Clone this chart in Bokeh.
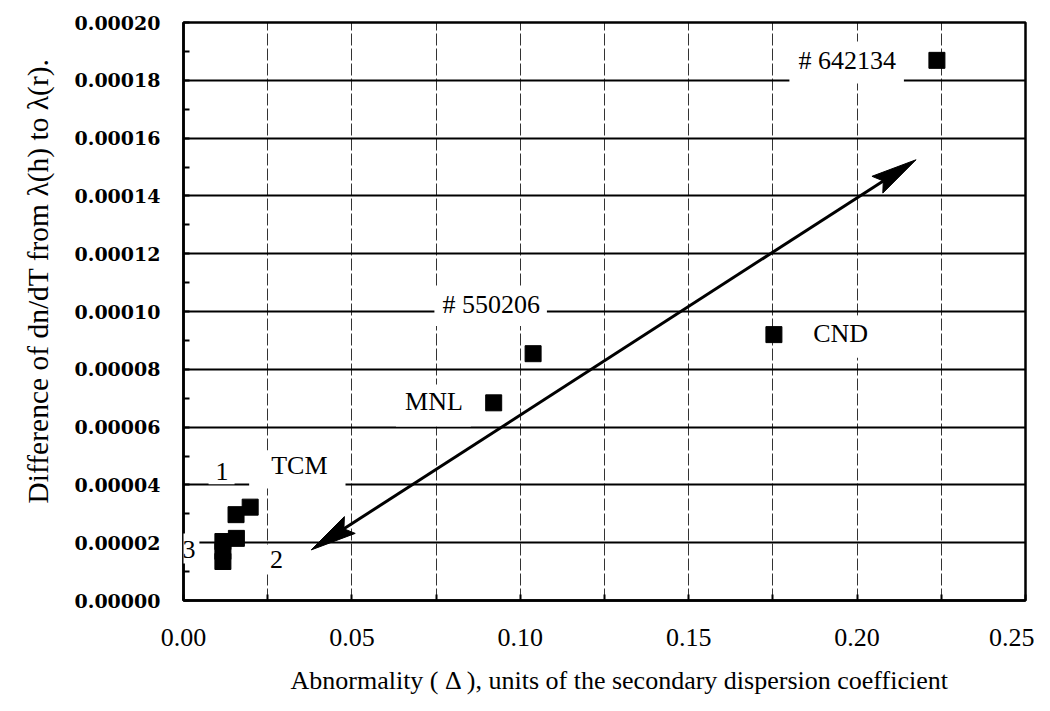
import math
from bokeh.plotting import figure
from bokeh.models import FixedTicker, PrintfTickFormatter, Label, Range1d, Title
from bokeh.embed import file_html
from bokeh.resources import INLINE

# ---------------- data ----------------
abnormality = [0.2237, 0.1753, 0.1038, 0.0921, 0.0198, 0.0156, 0.0157, 0.0117, 0.0117, 0.0117]
dndt_difference = [0.0001869, 0.0000920, 0.0000854, 0.0000684, 0.0000323,
                   0.0000297, 0.0000215, 0.0000204, 0.0000170, 0.0000135]

x_major_ticks = [0.0, 0.05, 0.10, 0.15, 0.20, 0.25]
x_minor_ticks = [0.025, 0.075, 0.125, 0.175, 0.225]
y_major_ticks = [0.0, 0.00002, 0.00004, 0.00006, 0.00008, 0.00010,
                 0.00012, 0.00014, 0.00016, 0.00018, 0.00020]
y_minor_ticks = [0.00001, 0.00003, 0.00005, 0.00007, 0.00009,
                 0.00011, 0.00013, 0.00015, 0.00017, 0.00019]

x_title = "Abnormality ( \u0394 ), units of the secondary dispersion coefficient"
y_title = "Difference of dn/dT from \u03bb(h) to \u03bb(r)."

annotation_texts = ["# 642134", "# 550206", "MNL", "CND", "TCM", "1", "3", "2"]
annotation_x = [0.1969, 0.0912, 0.0742, 0.1951, 0.0338, 0.0113, 0.0019, 0.0276]
annotation_y = [0.0001862, 0.0001017, 0.0000675, 0.0000913, 0.0000453, 0.0000439, 0.0000180, 0.0000142]

trend_start = (0.0379, 0.0000175)
trend_end = (0.2175, 0.0001525)

# ---------------- layout / style ----------------
W, H = 1034, 711
BL, BR, BT, BB = 183, 9, 22, 111
X0, X1 = 0.0, 0.25
Y0, Y1 = 0.0, 0.0002

label_pads = [dict(left=9, right=8, top=5, bottom=8),
              dict(left=8, right=7, top=3, bottom=7),
              dict(left=9, right=8, top=3, bottom=10),
              dict(left=6, right=6, top=3, bottom=10),
              dict(left=22, right=18, top=0, bottom=9),
              dict(left=7, right=6, top=0, bottom=4),
              dict(left=2, right=4, top=8, bottom=5),
              dict(left=7, right=7, top=7, bottom=6)]

serif = "Liberation Serif"

p = figure(width=W, height=H, output_backend="svg", toolbar_location=None,
           x_range=Range1d(X0, X1), y_range=Range1d(Y0, Y1),
           min_border_left=BL, min_border_right=BR, min_border_top=BT, min_border_bottom=BB)
p.background_fill_color = "white"
p.border_fill_color = "white"
p.outline_line_color = "black"
p.outline_line_width = 2.5

# axes
p.xaxis.ticker = FixedTicker(ticks=x_major_ticks, minor_ticks=x_minor_ticks)
p.yaxis.ticker = FixedTicker(ticks=y_major_ticks, minor_ticks=y_minor_ticks)
p.xaxis.formatter = PrintfTickFormatter(format="%.2f")
p.yaxis.formatter = PrintfTickFormatter(format="%.5f")

for ax in (p.xaxis, p.yaxis):
    ax.axis_line_color = "black"
    ax.axis_line_width = 2.5
    ax.major_tick_in = 6
    ax.major_tick_out = 0
    ax.minor_tick_in = 6
    ax.minor_tick_out = 0
    ax.major_tick_line_width = 2
    ax.minor_tick_line_width = 2
    ax.major_tick_line_color = "black"
    ax.minor_tick_line_color = "black"
    ax.major_label_text_color = "black"

p.xaxis.major_label_text_font = serif
p.xaxis.major_label_text_font_size = "26px"
p.xaxis.major_label_standoff = 28

p.yaxis.major_label_text_font = "DejaVu Serif"
p.yaxis.major_label_text_font_size = "19px"
p.yaxis.major_label_text_font_style = "bold"
p.yaxis.major_label_standoff = 23

# axis titles (as side titles so they can be offset like the original)
p.add_layout(Title(text=x_title, align="left", offset=107, standoff=31,
                   text_font=serif, text_font_size="26px", text_font_style="normal",
                   text_color="black"), "below")
p.add_layout(Title(text=y_title, align="left", offset=97, standoff=36,
                   text_font=serif, text_font_size="29.5px", text_font_style="normal",
                   text_color="black"), "left")

# grids
p.xgrid.grid_line_color = "black"
p.xgrid.grid_line_width = 1
p.xgrid.grid_line_dash = "12 3"
p.xgrid.grid_line_alpha = 0.8
p.xgrid.minor_grid_line_color = "black"
p.xgrid.minor_grid_line_width = 1
p.xgrid.minor_grid_line_dash = "12 3"
p.xgrid.minor_grid_line_alpha = 0.8
p.ygrid.grid_line_color = "black"
p.ygrid.grid_line_width = 1.8
p.ygrid.grid_line_alpha = 1.0

# trend arrow (double-headed)
fw = W - BL - BR
fh = H - BT - BB
kx = fw / (X1 - X0)
ky = fh / (Y1 - Y0)
head_len, head_half, notch = 46, 10, 7


def head(tip, tail):
    dx = (tip[0] - tail[0]) * kx
    dy = (tip[1] - tail[1]) * ky
    n = math.hypot(dx, dy)
    ux, uy = dx / n, dy / n
    nx, ny = -uy, ux
    tx, ty = tip[0] * kx, tip[1] * ky
    bx, by = tx - head_len * ux, ty - head_len * uy
    mx, my = tx - (head_len - notch) * ux, ty - (head_len - notch) * uy
    pts = [(tx, ty), (bx + head_half * nx, by + head_half * ny),
           (mx, my), (bx - head_half * nx, by - head_half * ny)]
    return [q[0] / kx for q in pts], [q[1] / ky for q in pts], (mx / kx, my / ky)


hx1, hy1, m1 = head(trend_end, trend_start)
hx2, hy2, m2 = head(trend_start, trend_end)
p.line([m2[0], m1[0]], [m2[1], m1[1]], line_color="black", line_width=3)
p.patches([hx1, hx2], [hy1, hy2], fill_color="black", line_color="black", line_width=1)

# data points
p.scatter(abnormality, dndt_difference, marker="square", size=16,
          fill_color="black", line_color="black")

# labels with white boxes that break the grid
for t, lx, ly, pad in zip(annotation_texts, annotation_x, annotation_y, label_pads):
    p.add_layout(Label(x=lx, y=ly, text=t, text_align="center", text_baseline="middle",
                       text_font=serif, text_font_size="26px", text_color="black",
                       background_fill_color="white", background_fill_alpha=1.0,
                       padding=pad, level="overlay"))

open("out.html", "w").write(file_html(p, INLINE))
